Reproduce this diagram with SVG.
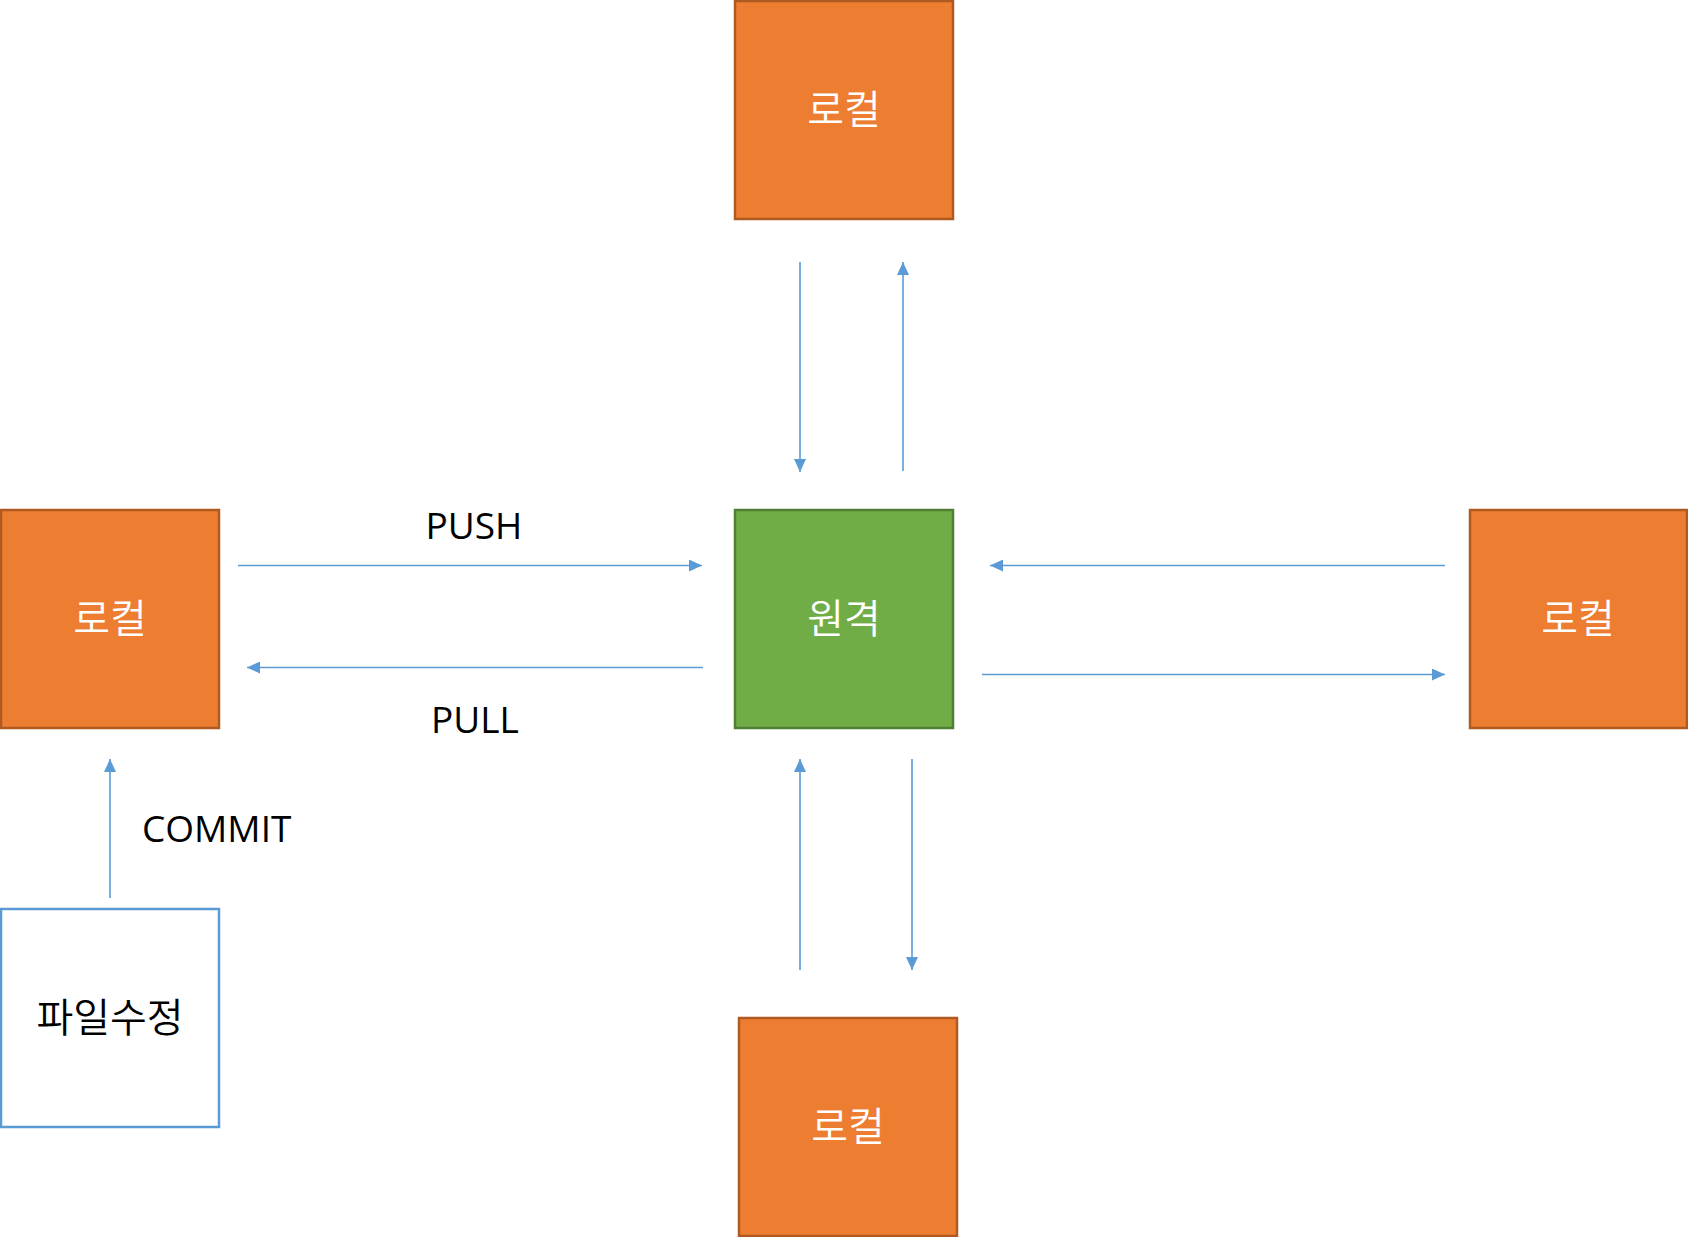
<svg xmlns="http://www.w3.org/2000/svg" width="1688" height="1237" viewBox="0 0 1688 1237">
<style>
.local{fill:#ED7D31;stroke:#AE5A21;stroke-width:2.5}
.remote{fill:#70AD47;stroke:#507E32;stroke-width:2.5}
.file{fill:#FFFFFF;stroke:#5B9BD5;stroke-width:2.5}
.lbl{font-family:"Noto Sans CJK KR","Open Sans",sans-serif;font-size:40px;font-weight:350;text-anchor:middle;dominant-baseline:central}
.w{fill:#FFFFFF}
.k{fill:#000000}
.edge{stroke:#5B9BD5;stroke-width:1.6;fill:none;marker-end:url(#ah)}
.elbl{font-family:"Open Sans","Noto Sans CJK KR",sans-serif;font-size:37px;fill:#000000}
</style>
<defs>
<marker id="ah" markerUnits="userSpaceOnUse" markerWidth="13" markerHeight="12" refX="13" refY="6" orient="auto">
<path d="M0,0 L13,6 L0,12 z" fill="#5B9BD5"/>
</marker>
</defs>
<rect width="1688" height="1237" fill="#FFFFFF"/>
<g id="local-top"><rect class="local" x="735" y="1" width="218" height="218"/><text class="lbl w" x="844" y="107">로컬</text></g>
<g id="local-left"><rect class="local" x="1" y="510" width="218" height="218"/><text class="lbl w" x="110" y="616">로컬</text></g>
<g id="remote"><rect class="remote" x="735" y="510" width="218" height="218"/><text class="lbl w" x="844" y="616">원격</text></g>
<g id="local-right"><rect class="local" x="1470" y="510" width="217" height="218"/><text class="lbl w" x="1578" y="616">로컬</text></g>
<g id="local-bottom"><rect class="local" x="739" y="1018" width="218" height="218"/><text class="lbl w" x="848" y="1124">로컬</text></g>
<g id="file"><rect class="file" x="1" y="909" width="218" height="218"/><text class="lbl k" x="110" y="1015">파일수정</text></g>
<g id="connectors">
<line class="edge" x1="238" y1="565.5" x2="702" y2="565.5"/>
<line class="edge" x1="703" y1="667.5" x2="247" y2="667.5"/>
<line class="edge" x1="1445" y1="565.5" x2="990" y2="565.5"/>
<line class="edge" x1="982" y1="674.5" x2="1445" y2="674.5"/>
<line class="edge" x1="800" y1="262" x2="800" y2="472"/>
<line class="edge" x1="903" y1="471" x2="903" y2="262"/>
<line class="edge" x1="800" y1="970" x2="800" y2="759"/>
<line class="edge" x1="912" y1="759" x2="912" y2="970"/>
<line class="edge" x1="110" y1="898" x2="110" y2="759"/>
<text class="elbl" x="474" y="539" text-anchor="middle">PUSH</text>
<text class="elbl" x="475" y="733" text-anchor="middle">PULL</text>
<text class="elbl" x="142" y="842">COMMIT</text>
</g>
</svg>
